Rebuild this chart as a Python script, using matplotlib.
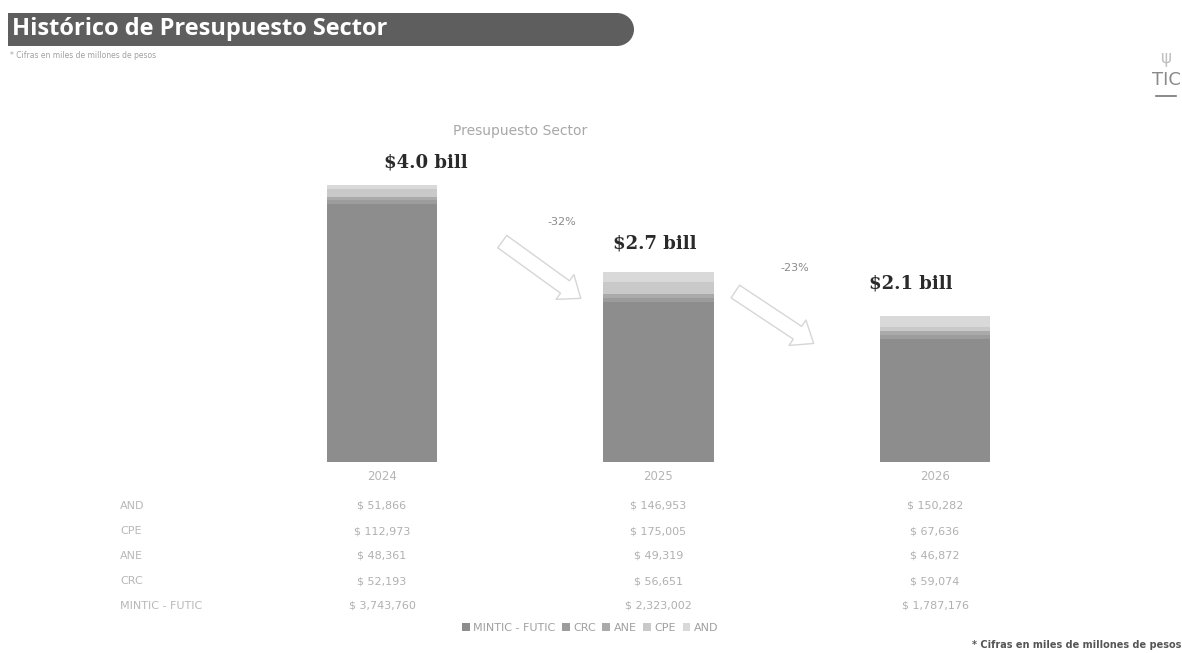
import matplotlib
matplotlib.use("Agg")
import matplotlib.pyplot as plt
from matplotlib.patches import FancyArrowPatch, Rectangle, Ellipse
from matplotlib.transforms import blended_transform_factory
import math

# ---------------- data ----------------
years = ["2024", "2025", "2026"]
series_names = ["MINTIC - FUTIC", "CRC", "ANE", "CPE", "AND"]
mintic_futic = [3743760, 2323002, 1787176]
crc = [52193, 56651, 59074]
ane = [48361, 49319, 46872]
cpe = [112973, 175005, 67636]
and_ = [51866, 146953, 150282]
pct_changes = ["-32%", "-23%"]

series_values = [mintic_futic, crc, ane, cpe, and_]
colors = ["#8d8d8d", "#9c9c9c", "#aaaaaa", "#c9c9c9", "#d9d9d9"]

W, H = 1182, 653
fig = plt.figure(figsize=(W / 100, H / 100), dpi=100)
fig.patch.set_facecolor("white")

def px(x, y):
    return (x / W, 1 - y / H)

# axes: left 200px, right 1120px, bottom 462px, top 150px
ax_left, ax_right, ax_bottom, ax_top = 200, 1120, 462, 150
ax = fig.add_axes([ax_left / W, 1 - ax_bottom / H, (ax_right - ax_left) / W, (ax_bottom - ax_top) / H])
ax.set_facecolor("none")

x = list(range(len(years)))
bottoms = [0] * len(years)
handles = []
for name, vals, c in zip(series_names, series_values, colors):
    b = ax.bar(x, vals, width=0.40, bottom=bottoms, color=c, label=name, edgecolor="none")
    handles.append(b)
    bottoms = [bb + v for bb, v in zip(bottoms, vals)]
totals = bottoms

ax.set_xlim(-0.658, 2.669)
ax.set_ylim(0, 4520000)
for s in ax.spines.values():
    s.set_visible(False)
ax.set_yticks([])
ax.set_xticks(x)
ax.set_xticklabels(years, color="#b5b5b5", fontsize=8.5)
ax.tick_params(axis="x", length=0, pad=6)

# total labels
label_dx = [44, -4, -24]  # px offsets
label_dy = [14, 20, 24]
for i, t in enumerate(totals):
    val = math.floor(t / 1e6 * 10) / 10
    ax.annotate(f"${val:.1f} bill", (x[i], t), xytext=(label_dx[i] * 0.72, label_dy[i] * 0.72),
                textcoords="offset points", ha="center", va="bottom",
                fontsize=13, fontweight="bold", family="DejaVu Serif", color="#2a2a2a")

# percentage labels and arrows
ax.text((562 - ax_left) / (ax_right - ax_left), (ax_bottom - 222) / (ax_bottom - ax_top),
        pct_changes[0], transform=ax.transAxes, ha="center", va="center", fontsize=8, color="#8a8a8a")
ax.text((795 - ax_left) / (ax_right - ax_left), (ax_bottom - 268) / (ax_bottom - ax_top),
        pct_changes[1], transform=ax.transAxes, ha="center", va="center", fontsize=8, color="#8a8a8a")

for (x0, y0, x1, y1) in [(500, 240, 583, 300), (733, 290, 816, 345)]:
    arr = FancyArrowPatch(px(x0, y0), px(x1, y1), transform=fig.transFigure,
                          arrowstyle="simple,head_length=0.7,head_width=1.1,tail_width=0.55",
                          mutation_scale=20, fc="white", ec="#d6d6d6", lw=1.0)
    fig.patches.append(arr)

# chart title
fig.text(*px(520, 131), "Presupuesto Sector", ha="center", va="center", fontsize=10, color="#a8a8a8")

# table below
tr = blended_transform_factory(ax.transData, fig.transFigure)
row_names = ["AND", "CPE", "ANE", "CRC", "MINTIC - FUTIC"]
row_vals = [and_, cpe, ane, crc, mintic_futic]
row_y = [506, 531, 556, 581, 606]
for name, vals, yy in zip(row_names, row_vals, row_y):
    fig.text(120 / W, 1 - yy / H, name, ha="left", va="center", fontsize=8, color="#b8b8b8")
    for i, v in enumerate(vals):
        ax.text(x[i], 1 - yy / H, f"$ {v:,}", transform=tr, ha="center", va="center",
                fontsize=8, color="#b0b0b0")

# legend
leg = fig.legend(handles=handles, labels=series_names, loc="center", bbox_to_anchor=px(590, 628),
                 ncol=5, frameon=False, fontsize=8, handlelength=0.7, handleheight=0.7,
                 handletextpad=0.3, columnspacing=0.6, labelcolor="#a0a0a0")

# header banner (square left edge, rounded right end)
bc = "#5e5e5e"
fig.patches.append(Rectangle(px(8, 46), (617 - 8) / W, 33 / H, transform=fig.transFigure, fc=bc, ec="none"))
fig.patches.append(Ellipse(px(617, 29.5), 34 / W, 33 / H, transform=fig.transFigure, fc=bc, ec="none"))
fig.text(*px(12, 29), "Histórico de Presupuesto Sector", ha="left", va="center",
         fontsize=17, fontweight="bold", color="white", family="Open Sans")
fig.text(*px(10, 56), "* Cifras en miles de millones de pesos", ha="left", va="center",
         fontsize=5.5, color="#a0a0a0")

# TIC logo
fig.text(*px(1166, 80), "TIC", ha="center", va="center", fontsize=13, color="#8a8a8a")
fig.text(*px(1166, 58), "ψ", ha="center", va="center", fontsize=12, color="#c0c0c0")
fig.add_artist(plt.Line2D([1156 / W, 1176 / W], [1 - 96 / H, 1 - 96 / H], color="#777777", lw=1.2))

# footnote
fig.text(*px(1181, 645), "* Cifras en miles de millones de pesos", ha="right", va="center",
         fontsize=7, color="#555555", fontweight="bold")

fig.savefig("out.png", dpi=100)
